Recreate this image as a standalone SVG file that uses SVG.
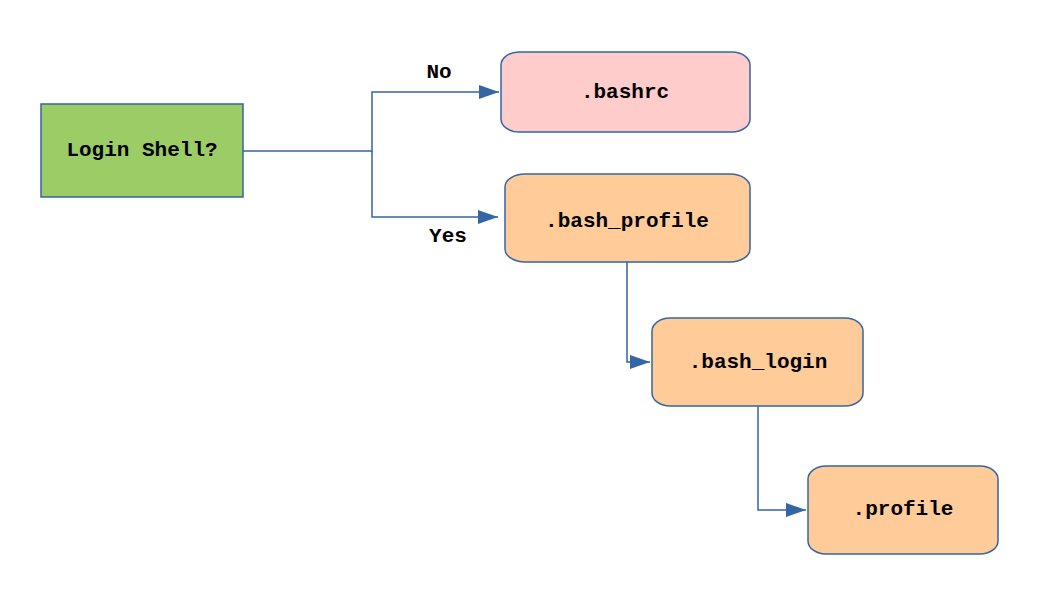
<svg xmlns="http://www.w3.org/2000/svg" width="1056" height="611" viewBox="0 0 1056 611">
<style>
.n{stroke:#3465a4;stroke-width:1.5}
.t{font-family:"Liberation Mono",monospace;font-weight:bold;font-size:21px;text-anchor:middle;dominant-baseline:central;fill:#000}
.c{fill:none;stroke:#3465a4;stroke-width:1.5}
</style>
<defs><marker id="a" markerWidth="20" markerHeight="14" refX="20" refY="7" orient="auto" markerUnits="userSpaceOnUse"><path d="M0,0L20,7L0,14Z" fill="#3465a4"/></marker></defs>
<rect width="1056" height="611" fill="#fff"/>
<g id="connectors">
<path class="c" d="M243,151H372V92H499" marker-end="url(#a)"/>
<path class="c" d="M372,151V217H498" marker-end="url(#a)"/>
<path class="c" d="M627,262V362H650" marker-end="url(#a)"/>
<path class="c" d="M758,406V510H806" marker-end="url(#a)"/>
<text class="t" x="439" y="72">No</text>
<text class="t" x="448" y="236">Yes</text>
</g>
<g id="login"><rect class="n" x="41" y="104" width="202" height="93" fill="#9ccc65"/><text class="t" x="142" y="150">Login Shell?</text></g>
<g id="bashrc"><rect class="n" x="501" y="52" width="249" height="80" rx="18" ry="13" fill="#ffcccc"/><text class="t" x="625" y="92">.bashrc</text></g>
<g id="bash_profile"><rect class="n" x="505" y="174" width="245" height="88" rx="20" ry="13" fill="#ffcc99"/><text class="t" x="627" y="221">.bash_profile</text></g>
<g id="bash_login"><rect class="n" x="652" y="318" width="211" height="88" rx="18" ry="13" fill="#ffcc99"/><text class="t" x="758" y="362">.bash_login</text></g>
<g id="profile"><rect class="n" x="808" y="466" width="190" height="88" rx="18" ry="13" fill="#ffcc99"/><text class="t" x="903" y="509">.profile</text></g>
</svg>
